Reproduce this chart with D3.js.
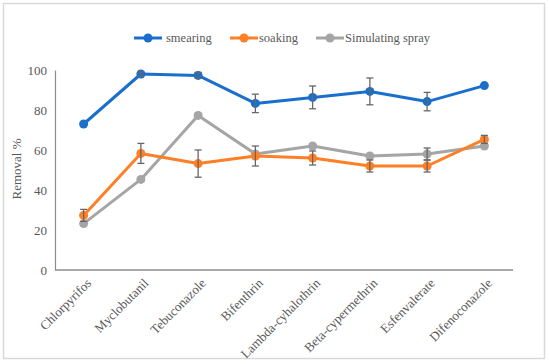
<!DOCTYPE html>
<html><head><meta charset="utf-8">
<script src="https://cdn.jsdelivr.net/npm/d3@7"></script>
<style>body{margin:0;background:#fff}svg{display:block}svg text{font-family:"Liberation Serif","Times New Roman",serif !important;}</style>
</head><body>
<script>
const categories = ["Chlorpyrifos","Myclobutanil","Tebuconazole","Bifenthrin","Lambda-cyhalothrin","Beta-cypermethrin","Esfenvalerate","Difenoconazole"];
const seriesNames = ["smearing","soaking","Simulating spray"];
const smearing = [73, 98, 97.3, 83.3, 86.3, 89.3, 84.2, 92.2];
const smearingErr = [0, 1, 1.5, 4.6, 5.7, 6.7, 4.6, 0];
const soaking = [27.3, 58.3, 53.2, 57, 56, 52, 52, 65.3];
const soakingErr = [3, 5, 6.8, 5, 3.5, 3, 3, 2];
const spray = [23.2, 45.3, 77.3, 58, 62, 57, 58, 62];
const sprayErr = [0, 0, 0, 0, 0, 0, 3, 0];
const yTicks = [0, 20, 40, 60, 80, 100];
const colors = ["#1a6fcc", "#ff7f27", "#a5a5a5"];

const W = 550, H = 364;
const svg = d3.select("body").append("svg").attr("width", W).attr("height", H);
svg.append("rect").attr("x", 3.5).attr("y", 3.5).attr("width", 541).attr("height", 355)
  .attr("fill", "#fff").attr("stroke", "#d9d9d9").attr("stroke-width", 1.5);

const x = d3.scalePoint().domain(categories).range([55, 513]).padding(0.5);
const y = d3.scaleLinear().domain([0, 100]).range([270, 70]);
const textColor = "#595959";

const yAxis = svg.append("g").attr("transform", "translate(55,0)")
  .call(d3.axisLeft(y).tickValues(yTicks).tickSize(0).tickPadding(8));
yAxis.select(".domain").attr("stroke", "#8c8c8c").attr("stroke-width", 1.2);
yAxis.selectAll("text").attr("font-size", 13).attr("fill", textColor);

const xAxis = svg.append("g").attr("transform", "translate(0,270)")
  .call(d3.axisBottom(x).tickSize(0).tickPadding(0));
xAxis.select(".domain").attr("stroke", "#8c8c8c").attr("stroke-width", 1.5).attr("d", "M55,0H513");
xAxis.selectAll("text").attr("font-size", 13).attr("fill", textColor)
  .attr("text-anchor", "end").attr("dy", 0)
  .attr("transform", "translate(8,14) rotate(-45)");

svg.append("text").attr("transform", "translate(21,169) rotate(-90)")
  .attr("text-anchor", "middle").attr("font-size", 13)
  .attr("fill", textColor).text("Removal %");

const data = [
  {vals: smearing, err: smearingErr},
  {vals: soaking, err: soakingErr},
  {vals: spray, err: sprayErr}
];
const line = d3.line().x((d, i) => x(categories[i])).y(d => y(d));

[2, 1, 0].forEach(si => {
  const s = data[si];
  const g = svg.append("g");
  g.append("path").datum(s.vals).attr("d", line).attr("fill", "none")
    .attr("stroke", colors[si]).attr("stroke-width", 3).attr("stroke-linejoin", "round");
  s.vals.forEach((v, i) => {
    const e = s.err[i];
    if (!e) return;
    const cx = x(categories[i]);
    const eg = svg.append("g").attr("stroke", "#666").attr("stroke-width", 1.3);
    eg.append("line").attr("x1", cx).attr("x2", cx).attr("y1", y(v + e)).attr("y2", y(v - e));
    eg.append("line").attr("x1", cx - 3.5).attr("x2", cx + 3.5).attr("y1", y(v + e)).attr("y2", y(v + e));
    eg.append("line").attr("x1", cx - 3.5).attr("x2", cx + 3.5).attr("y1", y(v - e)).attr("y2", y(v - e));
  });
  g.selectAll("circle").data(s.vals).join("circle")
    .attr("cx", (d, i) => x(categories[i])).attr("cy", d => y(d)).attr("r", 4.5)
    .attr("fill", colors[si]);
});

const legendPos = [{lx: 134, tx: 166}, {lx: 230, tx: 259}, {lx: 316, tx: 345}];
seriesNames.forEach((n, i) => {
  const p = legendPos[i];
  const g = svg.append("g");
  g.append("line").attr("x1", p.lx).attr("x2", p.lx + 28).attr("y1", 38).attr("y2", 38)
    .attr("stroke", colors[i]).attr("stroke-width", 3);
  g.append("circle").attr("cx", p.lx + 14).attr("cy", 38).attr("r", 4.5).attr("fill", colors[i]);
  g.append("text").attr("x", p.tx).attr("y", 38).attr("dy", "0.35em")
    .attr("font-size", 12.5).attr("fill", textColor).text(n);
});
</script>
</body></html>
